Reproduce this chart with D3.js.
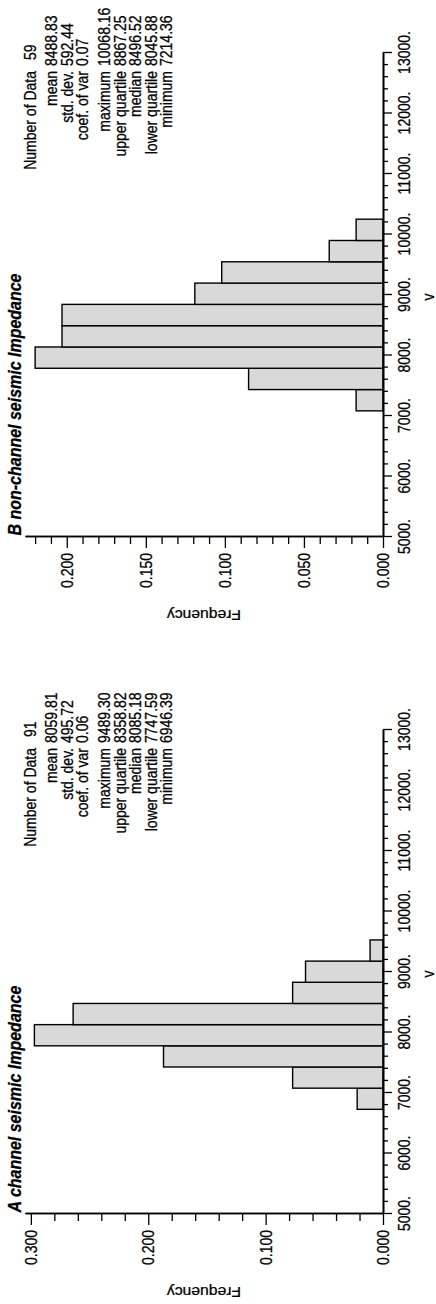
<!DOCTYPE html>
<html>
<head>
<meta charset="utf-8">
<script src="https://cdn.jsdelivr.net/npm/d3@7"></script>
<style>
body { margin: 0; background: #fff; }
svg { display: block; }
text { font-family: "Liberation Sans", Arial, Helvetica, sans-serif; fill: #000; stroke: #000; stroke-width: 0.25px; }
</style>
</head>
<body>
<svg id="chart" width="436" height="1304"></svg>
<script>
// histogram bins (bin edges) and relative frequencies
var binEdgesA = [6730, 7080, 7430, 7780, 8130, 8480, 8830, 9180, 9530];
var freqA = [0.022, 0.077, 0.187, 0.297, 0.264, 0.077, 0.066, 0.011];

var binEdgesB = [7085, 7437, 7789, 8141, 8493, 8845, 9197, 9549, 9901, 10253];
var freqB = [0.017, 0.085, 0.220, 0.203, 0.203, 0.119, 0.102, 0.034, 0.017];

var titleA = "A channel seismic Impedance";
var titleB = "B non-channel seismic Impedance";

var statLabels = ["Number of Data", "mean", "std. dev.", "coef. of var",
  "maximum", "upper quartile", "median", "lower quartile", "minimum"];
var statsA = ["91", "8059.81", "495.72", "0.06", "9489.30", "8358.82", "8085.18", "7747.59", "6946.39"];
var statsB = ["59", "8488.83", "592.44", "0.07", "10068.16", "8867.25", "8496.52", "8045.88", "7214.36"];

var xTicks = [5000, 6000, 7000, 8000, 9000, 10000, 11000, 12000, 13000];
var yTicksA = [0, 0.1, 0.2, 0.3];
var yTicksB = [0, 0.05, 0.1, 0.15, 0.2];

// the whole figure is drawn landscape and turned a quarter turn
var stretch = 1.12;
var svg = d3.select("#chart");
svg.append("rect").attr("width", 436).attr("height", 1304).attr("fill", "#fff");
var root = svg.append("g").attr("transform", "translate(0,1304) rotate(-90)");

function panel(offset, title, edges, freq, yMax, yTicks, yMinorStep, stats) {
  var g = root.append("g").attr("transform", "translate(" + offset + ",0)");

  var x = d3.scaleLinear().domain([5000, 13000]).range([90, 574]);
  var y = d3.scaleLinear().domain([0, yMax]).range([383, 25]);

  // bars
  g.selectAll("rect.bar")
    .data(freq)
    .enter().append("rect")
      .attr("class", "bar")
      .attr("x", function(d, i) { return x(edges[i]); })
      .attr("width", function(d, i) { return x(edges[i + 1]) - x(edges[i]); })
      .attr("y", function(d) { return y(d); })
      .attr("height", function(d) { return y(0) - y(d); })
      .attr("fill", "#d9d9d9")
      .attr("stroke", "#000")
      .attr("stroke-width", 1.4);

  // value axis
  var xMinor = d3.range(5000, 13001, 200).filter(function(v) { return v % 1000 !== 0; });
  g.append("g")
    .attr("transform", "translate(0,383)")
    .call(d3.axisBottom(x).tickValues(xMinor).tickSize(5).tickSizeOuter(0).tickFormat(""));
  var xg = g.append("g")
    .attr("transform", "translate(0,383)")
    .call(d3.axisBottom(x).tickValues(xTicks).tickSize(9).tickSizeOuter(0)
      .tickFormat(function(d) { return d + "."; }));
  xg.selectAll("text")
    .attr("y", null).attr("dy", null)
    .attr("font-size", 14)
    .attr("transform", "translate(0,27) scale(1," + stretch + ")");

  // frequency axis
  var yMinor = d3.range(yMinorStep, yMax, yMinorStep).filter(function(v) {
    return !yTicks.some(function(t) { return Math.abs(t - v) < 1e-6; });
  });
  g.append("g")
    .attr("transform", "translate(90,0)")
    .call(d3.axisLeft(y).tickValues(yMinor).tickSize(7).tickSizeOuter(0).tickFormat(""));
  var yg = g.append("g")
    .attr("transform", "translate(90,0)")
    .call(d3.axisLeft(y).tickValues(yTicks).tickSize(11).tickSizeOuter(0).tickFormat(d3.format(".3f")));
  yg.selectAll("text")
    .attr("x", null).attr("dy", "0.35em")
    .attr("font-size", 14)
    .attr("transform", "translate(-16,0) scale(1," + stretch + ")");

  g.selectAll(".domain").attr("stroke-width", 1.6);
  g.selectAll(".tick line").attr("stroke-width", 1.3);

  // title
  g.append("text")
    .attr("transform", "translate(" + (x(5000) + 1.5) + ",21) scale(1," + stretch + ")")
    .attr("font-size", 16)
    .attr("font-weight", "bold")
    .attr("font-style", "italic")
    .text(title);

  // axis titles
  g.append("text")
    .attr("transform", "translate(" + (x(9000) - 2) + ",434) scale(1," + stretch + ")")
    .attr("font-size", 14)
    .attr("text-anchor", "middle")
    .text("v");
  g.append("text")
    .attr("transform", "translate(" + (x(5000) - 73) + "," + ((y(0) + y.range()[1]) / 2) + ") scale(1," + stretch + ") rotate(-90)")
    .attr("font-size", 14)
    .attr("text-anchor", "middle")
    .text("Frequency");

  // statistics block
  var lineY = function(i) { return 36 + i * 15.5 + (i >= 1 ? 5.5 : 0) + (i >= 4 ? 6.5 : 0); };
  var st = g.append("g").attr("font-size", 14);
  statLabels.forEach(function(lab, i) {
    st.append("text")
      .attr("transform", "translate(" + (x(5000) + 466) + "," + lineY(i) + ") scale(1," + stretch + ")")
      .attr("text-anchor", "end")
      .text(lab);
    st.append("text")
      .attr("transform", "translate(" + (x(5000) + (i === 0 ? 477 : 471)) + "," + lineY(i) + ") scale(1," + stretch + ")")
      .text(stats[i]);
  });
}

panel(0, titleA, binEdgesA, freqA, 0.305, yTicksA, 0.02, statsA);
panel(677, titleB, binEdgesB, freqB, 0.2264, yTicksB, 0.01, statsB);
</script>
</body>
</html>
